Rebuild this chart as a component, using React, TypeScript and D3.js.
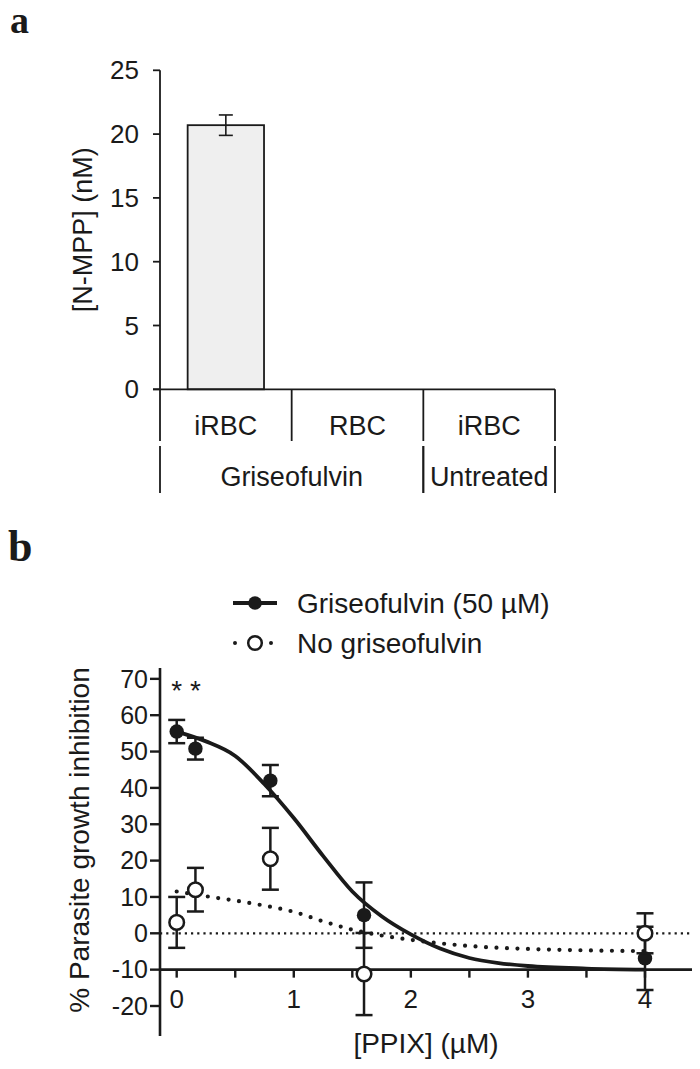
import React from 'react';
import * as d3 from 'd3';

// ---- panel a data ----
const aCategories = ['iRBC', 'RBC', 'iRBC'];
const aGroups = ['Griseofulvin', 'Griseofulvin', 'Untreated'];
const aValues: (number | null)[] = [20.7, null, null];
const aErrors: (number | null)[] = [0.8, null, null];
const aTicks = [0, 5, 10, 15, 20, 25];

// ---- panel b data ----
const bX = [0, 0.16, 0.8, 1.6, 4];
const grisY = [55.5, 50.8, 42, 5, -6.9];
const grisErr = [3.2, 3, 4.3, 9, 8.7];
const noneY = [3, 12, 20.5, -11.2, 0];
const noneErr = [7, 6, 8.5, 11.3, 5.5];
// fitted curves
const grisFitX = [0, 0.25, 0.5, 0.75, 1, 1.25, 1.5, 1.75, 2, 2.25, 2.5, 2.75, 3, 3.5, 4];
const grisFitY = [55.5, 52.8, 48.8, 41, 31.7, 21.3, 11.5, 4.7, -0.3, -4.2, -6.8, -8.2, -9, -9.7, -10];
const noneFitX = [0, 0.25, 0.5, 0.75, 1, 1.25, 1.5, 1.75, 2, 2.5, 3, 3.5, 4];
const noneFitY = [11.5, 10.2, 9, 7.6, 5.9, 3.3, 1, -0.6, -1.8, -3.5, -4.3, -4.7, -4.9];
const bYTicks = [-20, -10, 0, 10, 20, 30, 40, 50, 60, 70];
const bXTicks = [0, 1, 2, 3, 4];
const bXMinor = [0.5, 1.5, 2.5, 3.5];

const ink = '#1a1a1a';
const sans = 'Arial, "Liberation Sans", Helvetica, sans-serif';
const serif = '"Liberation Serif", "Times New Roman", serif';

function PanelA() {
  const y = d3.scaleLinear().domain([0, 25]).range([389.3, 70.3]);
  const x = d3.scaleBand<number>().domain(d3.range(aCategories.length)).range([160, 555]).paddingInner(0);
  const bw = x.bandwidth();
  const base = y(0);
  const row1 = 441;
  const row2 = 493;
  // group spans under the categories
  const groupNames = Array.from(new Set(aGroups));
  const spans = groupNames.map(g => {
    const idx = aGroups.map((v, i) => (v === g ? i : -1)).filter(i => i >= 0);
    return { name: g, x0: x(idx[0])!, x1: x(idx[idx.length - 1])! + bw };
  });
  return (
    <g>
      <text x={10} y={33} fontFamily={serif} fontWeight="bold" fontSize={38} fill={ink}>a</text>
      {/* y axis */}
      <line x1={160} x2={160} y1={y(25)} y2={base} stroke={ink} strokeWidth={1.8} />
      {aTicks.map(t => (
        <g key={t}>
          <line x1={153} x2={160} y1={y(t)} y2={y(t)} stroke={ink} strokeWidth={1.8} />
          <text x={139} y={y(t)} dy="0.35em" textAnchor="end" fontFamily={sans} fontSize={26} fill={ink}>{t}</text>
        </g>
      ))}
      <text transform={`translate(92,${(y(25) + base) / 2}) rotate(-90)`} textAnchor="middle" fontFamily={sans} fontSize={27} fill={ink}>[N-MPP] (nM)</text>
      {/* bars */}
      {aValues.map((v, i) => v == null ? null : (
        <g key={i}>
          <rect x={x(i)! + bw * 0.21} width={bw * 0.58} y={y(v)} height={base - y(v)} fill="#efefef" stroke={ink} strokeWidth={1.8} />
          <line x1={x(i)! + bw / 2} x2={x(i)! + bw / 2} y1={y(v + aErrors[i]!)} y2={y(v - aErrors[i]!)} stroke={ink} strokeWidth={1.6} />
          <line x1={x(i)! + bw / 2 - 7} x2={x(i)! + bw / 2 + 7} y1={y(v + aErrors[i]!)} y2={y(v + aErrors[i]!)} stroke={ink} strokeWidth={1.6} />
          <line x1={x(i)! + bw / 2 - 7} x2={x(i)! + bw / 2 + 7} y1={y(v - aErrors[i]!)} y2={y(v - aErrors[i]!)} stroke={ink} strokeWidth={1.6} />
        </g>
      ))}
      {/* category table */}
      <line x1={153} x2={555} y1={base} y2={base} stroke={ink} strokeWidth={1.8} />
      {aCategories.map((c, i) => (
        <g key={i}>
          <line x1={x(i)!} x2={x(i)!} y1={base} y2={row1} stroke={ink} strokeWidth={1.8} />
          <text x={x(i)! + bw / 2} y={435} textAnchor="middle" fontFamily={sans} fontSize={27} fill={ink}>{c}</text>
        </g>
      ))}
      <line x1={555} x2={555} y1={base} y2={row1} stroke={ink} strokeWidth={1.8} />
      {spans.map(s => (
        <g key={s.name}>
          <line x1={s.x0} x2={s.x0} y1={row1 + 5} y2={row2} stroke={ink} strokeWidth={1.8} />
          <line x1={s.x1} x2={s.x1} y1={row1 + 5} y2={row2} stroke={ink} strokeWidth={1.8} />
          <text x={(s.x0 + s.x1) / 2} y={486} textAnchor="middle" fontFamily={sans} fontSize={27} fill={ink}>{s.name}</text>
        </g>
      ))}
    </g>
  );
}

function PanelB() {
  const x = d3.scaleLinear().domain([0, 4]).range([176.7, 645]);
  const y = d3.scaleLinear().domain([-20, 0]).range([1006, 933.3]);
  const line = d3.line<[number, number]>().x(d => x(d[0])).y(d => y(d[1])).curve(d3.curveMonotoneX);
  const grisFit = line(grisFitX.map((v, i) => [v, grisFitY[i]] as [number, number]))!;
  const noneFit = line(noneFitX.map((v, i) => [v, noneFitY[i]] as [number, number]))!;
  const axisY = y(-10);
  const cap = 8.5;
  const errBars = (ys: number[], es: number[], key: string) =>
    bX.map((v, i) => (
      <g key={key + i} stroke={ink} strokeWidth={2.5}>
        <line x1={x(v)} x2={x(v)} y1={y(ys[i] + es[i])} y2={y(ys[i] - es[i])} />
        <line x1={x(v) - cap} x2={x(v) + cap} y1={y(ys[i] + es[i])} y2={y(ys[i] + es[i])} />
        <line x1={x(v) - cap} x2={x(v) + cap} y1={y(ys[i] - es[i])} y2={y(ys[i] - es[i])} />
      </g>
    ));
  return (
    <g>
      <text x={8} y={561} fontFamily={serif} fontWeight="bold" fontSize={44} fill={ink}>b</text>
      {/* legend */}
      <line x1={233} x2={277} y1={603} y2={603} stroke={ink} strokeWidth={4} />
      <circle cx={255} cy={603} r={6.8} fill={ink} />
      <text x={297} y={603} dy="0.35em" fontFamily={sans} fontSize={28} fill={ink}>Griseofulvin (50 µM)</text>
      <line x1={235} x2={275} y1={643} y2={643} stroke={ink} strokeWidth={4} strokeDasharray="0 36" strokeLinecap="round" />
      <circle cx={255} cy={643} r={6.8} fill="#fff" stroke={ink} strokeWidth={2.5} />
      <text x={297} y={643} dy="0.35em" fontFamily={sans} fontSize={28} fill={ink}>No griseofulvin</text>
      {/* y axis */}
      <line x1={160} x2={160} y1={668} y2={1036} stroke={ink} strokeWidth={2.6} />
      {bYTicks.map(t => (
        <g key={t}>
          <line x1={150} x2={160} y1={y(t)} y2={y(t)} stroke={ink} strokeWidth={2.4} />
          <text x={148} y={y(t)} dy="0.35em" textAnchor="end" fontFamily={sans} fontSize={25} fill={ink}>{t}</text>
        </g>
      ))}
      <text transform={`translate(89,840) rotate(-90)`} textAnchor="middle" fontFamily={sans} fontSize={28} fill={ink}>% Parasite growth inhibition</text>
      {/* zero reference */}
      <line x1={160} x2={692} y1={y(0)} y2={y(0)} stroke={ink} strokeWidth={2.2} strokeDasharray="2.2 4" />
      {/* x axis */}
      <line x1={160} x2={692} y1={axisY} y2={axisY} stroke={ink} strokeWidth={2.8} />
      {bXTicks.concat(bXMinor).map(t => (
        <line key={t} x1={x(t)} x2={x(t)} y1={axisY} y2={axisY + 8} stroke={ink} strokeWidth={2.4} />
      ))}
      {bXTicks.map(t => (
        <text key={t} x={x(t)} y={1008} textAnchor="middle" fontFamily={sans} fontSize={26} fill={ink}>{t}</text>
      ))}
      <text x={426} y={1043} dy="0.35em" textAnchor="middle" fontFamily={sans} fontSize={28} fill={ink}>[PPIX] (µM)</text>
      {/* curves */}
      <path d={noneFit} fill="none" stroke={ink} strokeWidth={4.2} strokeDasharray="0 10.5" strokeLinecap="round" />
      <path d={grisFit} fill="none" stroke={ink} strokeWidth={3.8} />
      {/* error bars and markers */}
      {errBars(grisY, grisErr, 'g')}
      {bX.map((v, i) => <circle key={'gc' + i} cx={x(v)} cy={y(grisY[i])} r={7.2} fill={ink} />)}
      {errBars(noneY, noneErr, 'n')}
      {bX.map((v, i) => <circle key={'nc' + i} cx={x(v)} cy={y(noneY[i])} r={7.3} fill="#fff" stroke={ink} strokeWidth={2.5} />)}
      {/* significance marks */}
      {bX.slice(0, 2).map((v, i) => (
        <text key={'s' + i} x={x(v)} y={700} textAnchor="middle" fontFamily={sans} fontSize={28} fill={ink}>*</text>
      ))}
    </g>
  );
}

export default function App() {
  return (
    <svg width={700} height={1069} style={{ position: 'absolute', left: 0, top: 0, background: '#fff' }}>
      <rect width={700} height={1069} fill="#fff" />
      <PanelA />
      <PanelB />
    </svg>
  );
}
